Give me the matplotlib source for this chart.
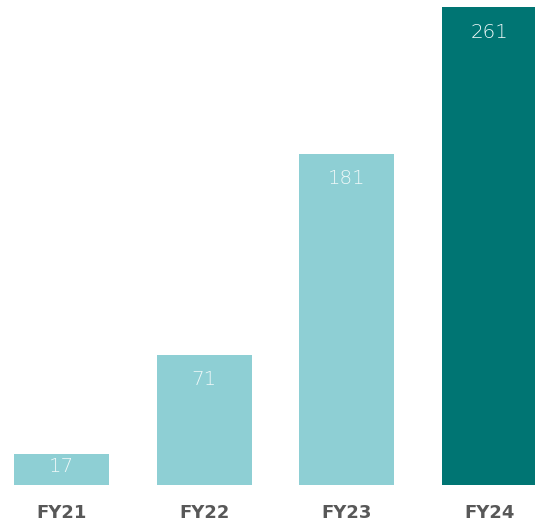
import matplotlib
matplotlib.use("Agg")
import matplotlib.pyplot as plt

categories = ["FY21", "FY22", "FY23", "FY24"]
values = [17, 71, 181, 261]
colors = ["#8ecfd4", "#8ecfd4", "#8ecfd4", "#007573"]

W, H = 535, 526
fig = plt.figure(figsize=(W / 100, H / 100), dpi=100)

# axes placed in pixel terms: bar pitch ~142.7 px, first centre at 61.5 px
pitch = 142.7
x0 = 61.5 - 0.5 * pitch
plot_h = 478
ax = fig.add_axes([x0 / W, 41 / H, 4 * pitch / W, plot_h / H])
ax.set_xlim(-0.5, 3.5)
ax.set_ylim(0, 261)

xs = range(len(categories))
ax.bar(xs, values, width=0.666, color=colors, linewidth=0)

px_per_unit = plot_h / 261
for x, v in zip(xs, values):
    # value sits 25 px below the bar top, or mid-bar when the bar is short
    off = min(25, 0.5 * v * px_per_unit - 3)
    ax.annotate(str(v), (x, v), xytext=(0, -off), textcoords="offset pixels",
                ha="center", va="center", fontsize=14.3, color="#eef8f8",
                family="DejaVu Sans", fontweight="light")
    ax.annotate(categories[x], (x, 0), xytext=(0, -28), textcoords="offset pixels",
                ha="center", va="center", fontsize=13, color="#585858",
                family="DejaVu Sans", fontweight="bold",
                annotation_clip=False)

ax.axis("off")
fig.savefig("out.png", dpi=100)
